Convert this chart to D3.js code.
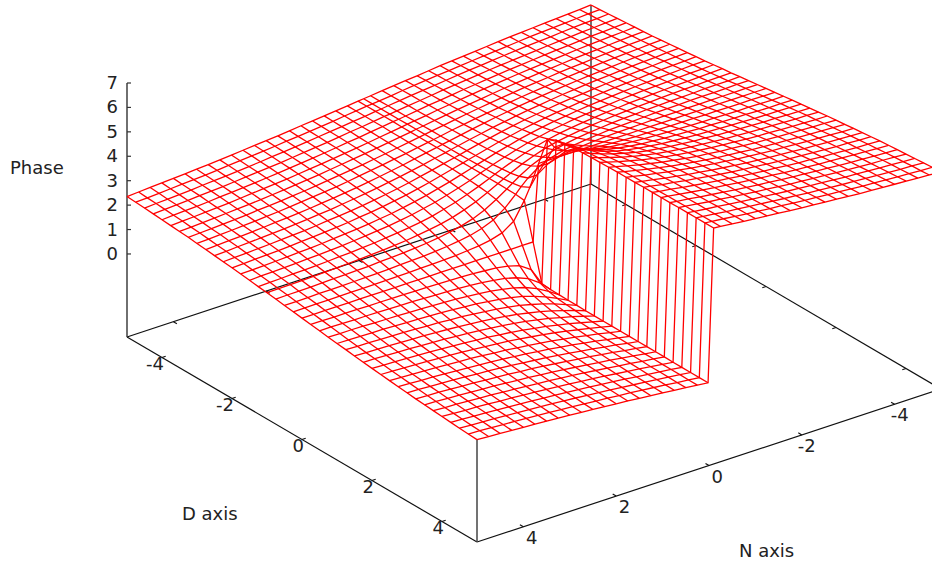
<!DOCTYPE html>
<html><head><meta charset="utf-8">
<style>html,body{margin:0;padding:0;background:#fff;overflow:hidden}svg{display:block}text{font-family:"DejaVu Sans",Verdana,sans-serif;font-size:18px;fill:#222}</style>
<script src="https://cdn.jsdelivr.net/npm/d3@7/dist/d3.min.js"></script>
</head><body><svg id="c" width="932" height="566"></svg>
<script>
const dValues=[-5,-4.75,-4.5,-4.25,-4,-3.75,-3.5,-3.25,-3,-2.75,-2.5,-2.25,-2,-1.75,-1.5,-1.25,-1,-.75,-.5,-.25,0,.25,.5,.75,1,1.25,1.5,1.75,2,2.25,2.5,2.75,3,3.25,3.5,3.75,4,4.25,4.5,4.75,5];
const nValues=[5,4.75,4.5,4.25,4,3.75,3.5,3.25,3,2.75,2.5,2.25,2,1.75,1.5,1.25,1,.75,.5,.25,.02,-.1,-.25,-.5,-.75,-1,-1.25,-1.5,-1.75,-2,-2.25,-2.5,-2.75,-3,-3.25,-3.5,-3.75,-4,-4.25,-4.5,-4.75,-5];
const dTicks=[-4,-2,0,2,4];
const nTicks=[4,2,0,-2,-4];
const zTicks=[0,1,2,3,4,5,6,7];
const phaseRows=[
[2.35,2.33,2.30,2.27,2.24,2.21,2.18,2.15,2.11,2.07,2.03,1.99,1.95,1.91,1.86,1.81,1.77,1.72,1.67,1.62,1.57,1.52,1.47,1.42,1.37,1.33,1.28,1.23,1.19,1.15,1.11,1.07,1.03,.99,.96,.93,.90,.87,.84,.81,.79],
[2.38,2.35,2.33,2.30,2.27,2.24,2.20,2.17,2.13,2.09,2.05,2.01,1.97,1.92,1.88,1.83,1.78,1.73,1.67,1.62,1.57,1.52,1.47,1.41,1.36,1.31,1.26,1.22,1.17,1.13,1.09,1.05,1.01,.97,.94,.90,.87,.84,.81,.79,.76],
[2.41,2.38,2.35,2.33,2.30,2.26,2.23,2.19,2.16,2.12,2.08,2.03,1.99,1.94,1.89,1.84,1.79,1.73,1.68,1.63,1.57,1.51,1.46,1.41,1.35,1.30,1.25,1.20,1.15,1.11,1.06,1.02,.98,.95,.91,.88,.84,.81,.79,.76,.73],
[2.44,2.41,2.38,2.35,2.32,2.29,2.26,2.22,2.18,2.14,2.10,2.06,2.01,1.96,1.91,1.86,1.80,1.74,1.69,1.63,1.57,1.51,1.45,1.40,1.34,1.28,1.23,1.18,1.13,1.08,1.04,1.00,.96,.92,.88,.85,.82,.79,.76,.73,.70],
[2.47,2.44,2.41,2.39,2.35,2.32,2.29,2.25,2.21,2.17,2.13,2.08,2.03,1.98,1.93,1.87,1.81,1.76,1.69,1.63,1.57,1.51,1.45,1.38,1.33,1.27,1.21,1.16,1.11,1.06,1.01,.97,.93,.89,.85,.82,.79,.75,.73,.70,.67],
[2.50,2.47,2.45,2.42,2.39,2.35,2.32,2.28,2.24,2.20,2.16,2.11,2.06,2.01,1.95,1.89,1.83,1.77,1.70,1.64,1.57,1.50,1.44,1.37,1.31,1.25,1.19,1.13,1.08,1.03,.98,.94,.90,.86,.82,.79,.75,.72,.69,.67,.64],
[2.53,2.50,2.48,2.45,2.42,2.39,2.35,2.32,2.28,2.24,2.19,2.14,2.09,2.03,1.97,1.91,1.85,1.78,1.71,1.64,1.57,1.50,1.43,1.36,1.29,1.23,1.17,1.11,1.05,1.00,.95,.90,.86,.82,.79,.75,.72,.69,.66,.64,.61],
[2.56,2.54,2.51,2.49,2.46,2.43,2.39,2.35,2.31,2.27,2.22,2.17,2.12,2.06,2.00,1.94,1.87,1.80,1.72,1.65,1.57,1.49,1.42,1.34,1.27,1.20,1.14,1.08,1.02,.97,.92,.87,.83,.79,.75,.71,.68,.65,.63,.60,.58],
[2.60,2.58,2.55,2.53,2.50,2.47,2.43,2.39,2.35,2.31,2.26,2.21,2.16,2.10,2.03,1.96,1.89,1.81,1.73,1.65,1.57,1.49,1.41,1.33,1.25,1.18,1.11,1.04,.98,.93,.88,.83,.79,.75,.71,.67,.64,.61,.59,.56,.54],
[2.64,2.62,2.59,2.57,2.54,2.51,2.47,2.44,2.40,2.35,2.31,2.26,2.20,2.14,2.07,2.00,1.92,1.84,1.75,1.66,1.57,1.48,1.39,1.30,1.22,1.14,1.07,1.00,.94,.88,.83,.79,.74,.70,.67,.63,.60,.57,.55,.52,.50],
[2.68,2.66,2.63,2.61,2.58,2.55,2.52,2.48,2.45,2.40,2.35,2.30,2.24,2.18,2.11,2.03,1.95,1.86,1.77,1.67,1.57,1.47,1.37,1.28,1.19,1.11,1.03,.96,.90,.84,.79,.74,.69,.66,.62,.59,.56,.53,.51,.48,.46],
[2.72,2.70,2.68,2.65,2.63,2.60,2.57,2.53,2.50,2.45,2.41,2.35,2.30,2.23,2.16,2.08,1.99,1.89,1.79,1.68,1.57,1.46,1.35,1.25,1.15,1.06,.98,.91,.84,.79,.73,.69,.64,.61,.57,.54,.51,.49,.46,.44,.42],
[2.76,2.74,2.72,2.70,2.68,2.65,2.62,2.59,2.55,2.51,2.47,2.41,2.35,2.29,2.21,2.13,2.03,1.93,1.81,1.69,1.57,1.45,1.33,1.21,1.11,1.01,.93,.85,.79,.73,.67,.63,.59,.55,.52,.49,.46,.44,.42,.40,.38],
[2.80,2.79,2.77,2.75,2.73,2.70,2.68,2.65,2.61,2.57,2.53,2.48,2.42,2.35,2.28,2.19,2.09,1.97,1.85,1.71,1.57,1.43,1.29,1.17,1.05,.95,.86,.79,.72,.66,.61,.57,.53,.49,.46,.44,.41,.39,.37,.35,.34],
[2.85,2.83,2.82,2.80,2.78,2.76,2.74,2.71,2.68,2.64,2.60,2.55,2.50,2.43,2.35,2.26,2.16,2.03,1.89,1.73,1.57,1.41,1.25,1.11,.98,.88,.79,.71,.64,.59,.54,.50,.46,.43,.40,.38,.36,.34,.32,.31,.29],
[2.90,2.88,2.87,2.85,2.84,2.82,2.80,2.77,2.75,2.71,2.68,2.63,2.58,2.52,2.45,2.35,2.24,2.11,1.95,1.77,1.57,1.37,1.19,1.03,.90,.79,.69,.62,.56,.51,.46,.43,.39,.37,.34,.32,.30,.29,.27,.26,.24],
[2.94,2.93,2.92,2.91,2.90,2.88,2.86,2.84,2.82,2.79,2.76,2.72,2.68,2.62,2.55,2.47,2.35,2.21,2.03,1.81,1.57,1.33,1.11,.93,.79,.67,.59,.52,.46,.42,.38,.35,.32,.30,.28,.26,.24,.23,.22,.21,.20],
[2.99,2.98,2.97,2.97,2.95,2.94,2.93,2.91,2.90,2.87,2.85,2.82,2.78,2.74,2.68,2.60,2.50,2.35,2.16,1.89,1.57,1.25,.98,.79,.64,.54,.46,.40,.36,.32,.29,.27,.24,.23,.21,.20,.19,.17,.17,.16,.15],
[3.04,3.04,3.03,3.02,3.02,3.01,3.00,2.99,2.97,2.96,2.94,2.92,2.90,2.86,2.82,2.76,2.68,2.55,2.35,2.03,1.57,1.11,.79,.59,.46,.38,.32,.28,.24,.22,.20,.18,.17,.15,.14,.13,.12,.12,.11,.10,.10],
[3.09,3.09,3.08,3.08,3.08,3.07,3.07,3.06,3.06,3.05,3.04,3.03,3.02,3.00,2.97,2.94,2.90,2.82,2.68,2.35,1.57,.79,.46,.32,.24,.20,.17,.14,.12,.11,.10,.09,.08,.08,.07,.07,.06,.06,.06,.05,.05],
[3.14,3.14,3.14,3.14,3.14,3.13,3.13,3.13,3.13,3.13,3.13,3.13,3.13,3.13,3.13,3.12,3.12,3.11,3.10,3.06,1.57,.08,.04,.03,.02,.02,.01,.01,.01,.01,.01,.01,.01,.01,.01,.01,0,0,0,0,0],
[3.16,3.16,3.16,3.16,3.16,3.17,3.17,3.17,3.17,3.18,3.18,3.18,3.19,3.20,3.21,3.22,3.24,3.27,3.34,3.52,4.71,5.90,6.08,6.15,6.18,6.20,6.21,6.22,6.23,6.24,6.24,6.24,6.25,6.25,6.25,6.25,6.26,6.26,6.26,6.26,6.26],
[3.19,3.19,3.20,3.20,3.20,3.21,3.21,3.22,3.22,3.23,3.24,3.25,3.26,3.28,3.31,3.34,3.38,3.46,3.60,3.93,4.71,5.49,5.82,5.96,6.04,6.08,6.11,6.14,6.16,6.17,6.18,6.19,6.20,6.20,6.21,6.21,6.22,6.22,6.22,6.23,6.23],
[3.24,3.24,3.25,3.26,3.26,3.27,3.28,3.29,3.31,3.32,3.34,3.36,3.38,3.42,3.46,3.52,3.60,3.73,3.93,4.25,4.71,5.17,5.49,5.69,5.82,5.90,5.96,6.00,6.04,6.06,6.08,6.10,6.11,6.13,6.14,6.15,6.16,6.16,6.17,6.18,6.18],
[3.29,3.30,3.31,3.31,3.33,3.34,3.35,3.37,3.38,3.41,3.43,3.46,3.50,3.54,3.60,3.68,3.78,3.93,4.12,4.39,4.71,5.03,5.30,5.49,5.64,5.74,5.82,5.88,5.92,5.96,5.99,6.01,6.04,6.05,6.07,6.08,6.09,6.11,6.11,6.12,6.13],
[3.34,3.35,3.36,3.37,3.38,3.40,3.42,3.44,3.46,3.49,3.52,3.56,3.60,3.66,3.73,3.81,3.93,4.07,4.25,4.47,4.71,4.95,5.17,5.35,5.49,5.61,5.69,5.76,5.82,5.86,5.90,5.93,5.96,5.98,6.00,6.02,6.04,6.05,6.06,6.07,6.08],
[3.38,3.40,3.41,3.43,3.44,3.46,3.48,3.51,3.53,3.57,3.60,3.65,3.70,3.76,3.83,3.93,4.04,4.17,4.33,4.51,4.71,4.91,5.09,5.25,5.38,5.49,5.59,5.66,5.72,5.77,5.82,5.85,5.89,5.91,5.94,5.96,5.98,5.99,6.01,6.02,6.04],
[3.43,3.45,3.46,3.48,3.50,3.52,3.54,3.57,3.60,3.64,3.68,3.73,3.78,3.85,3.93,4.02,4.12,4.25,4.39,4.55,4.71,4.87,5.03,5.17,5.30,5.40,5.49,5.57,5.64,5.69,5.74,5.78,5.82,5.85,5.88,5.90,5.92,5.94,5.96,5.97,5.99],
[3.48,3.49,3.51,3.53,3.55,3.58,3.60,3.63,3.67,3.71,3.75,3.80,3.86,3.93,4.00,4.09,4.19,4.31,4.43,4.57,4.71,4.85,4.99,5.11,5.23,5.33,5.42,5.49,5.56,5.62,5.67,5.71,5.75,5.79,5.82,5.84,5.87,5.89,5.91,5.93,5.94],
[3.52,3.54,3.56,3.58,3.60,3.63,3.66,3.69,3.73,3.77,3.81,3.87,3.93,3.99,4.07,4.15,4.25,4.35,4.47,4.59,4.71,4.83,4.95,5.07,5.17,5.27,5.35,5.43,5.49,5.55,5.61,5.65,5.69,5.73,5.76,5.79,5.82,5.84,5.86,5.88,5.90],
[3.56,3.58,3.60,3.63,3.65,3.68,3.71,3.75,3.78,3.83,3.87,3.93,3.98,4.05,4.12,4.20,4.29,4.39,4.49,4.60,4.71,4.82,4.93,5.03,5.13,5.22,5.30,5.37,5.44,5.49,5.55,5.59,5.64,5.67,5.71,5.74,5.77,5.79,5.82,5.84,5.86],
[3.60,3.62,3.65,3.67,3.70,3.73,3.76,3.80,3.83,3.88,3.93,3.98,4.04,4.10,4.17,4.25,4.33,4.42,4.51,4.61,4.71,4.81,4.91,5.00,5.09,5.17,5.25,5.32,5.38,5.44,5.49,5.54,5.59,5.62,5.66,5.69,5.72,5.75,5.77,5.80,5.82],
[3.64,3.66,3.69,3.71,3.74,3.77,3.81,3.84,3.88,3.93,3.97,4.02,4.08,4.14,4.21,4.28,4.36,4.44,4.53,4.62,4.71,4.80,4.89,4.98,5.06,5.14,5.21,5.28,5.34,5.40,5.45,5.49,5.54,5.58,5.61,5.65,5.68,5.71,5.73,5.76,5.78],
[3.68,3.70,3.73,3.75,3.78,3.81,3.85,3.89,3.93,3.97,4.02,4.07,4.12,4.18,4.25,4.32,4.39,4.47,4.55,4.63,4.71,4.79,4.87,4.95,5.03,5.10,5.17,5.24,5.30,5.35,5.40,5.45,5.49,5.53,5.57,5.61,5.64,5.67,5.69,5.72,5.74],
[3.72,3.74,3.77,3.79,3.82,3.85,3.89,3.93,3.97,4.01,4.06,4.11,4.16,4.22,4.28,4.34,4.41,4.48,4.56,4.63,4.71,4.79,4.86,4.94,5.01,5.08,5.14,5.20,5.26,5.31,5.36,5.41,5.45,5.49,5.53,5.57,5.60,5.63,5.65,5.68,5.70],
[3.75,3.78,3.80,3.83,3.86,3.89,3.93,3.96,4.00,4.04,4.09,4.14,4.19,4.25,4.31,4.37,4.43,4.50,4.57,4.64,4.71,4.78,4.85,4.92,4.99,5.05,5.11,5.17,5.23,5.28,5.33,5.38,5.42,5.46,5.49,5.53,5.56,5.59,5.62,5.64,5.67],
[3.78,3.81,3.83,3.86,3.89,3.93,3.96,4.00,4.04,4.08,4.12,4.17,4.22,4.27,4.33,4.39,4.45,4.51,4.58,4.64,4.71,4.78,4.84,4.91,4.97,5.03,5.09,5.15,5.20,5.25,5.30,5.34,5.38,5.42,5.46,5.49,5.53,5.56,5.59,5.61,5.64],
[3.81,3.84,3.87,3.89,3.93,3.96,3.99,4.03,4.07,4.11,4.15,4.20,4.25,4.30,4.35,4.41,4.47,4.52,4.59,4.65,4.71,4.77,4.83,4.90,4.95,5.01,5.07,5.12,5.17,5.22,5.27,5.31,5.35,5.39,5.43,5.46,5.49,5.53,5.55,5.58,5.61],
[3.84,3.87,3.90,3.93,3.96,3.99,4.02,4.06,4.10,4.14,4.18,4.22,4.27,4.32,4.37,4.42,4.48,4.54,4.59,4.65,4.71,4.77,4.83,4.88,4.94,5.00,5.05,5.10,5.15,5.20,5.24,5.28,5.32,5.36,5.40,5.43,5.46,5.49,5.52,5.55,5.58],
[3.87,3.90,3.93,3.95,3.98,4.02,4.05,4.09,4.12,4.16,4.20,4.25,4.29,4.34,4.39,4.44,4.49,4.55,4.60,4.65,4.71,4.77,4.82,4.87,4.93,4.98,5.03,5.08,5.13,5.17,5.22,5.26,5.30,5.33,5.37,5.40,5.44,5.47,5.49,5.52,5.55],
[3.90,3.93,3.95,3.98,4.01,4.04,4.08,4.11,4.15,4.19,4.23,4.27,4.31,4.36,4.40,4.45,4.50,4.55,4.61,4.66,4.71,4.76,4.81,4.87,4.92,4.97,5.02,5.06,5.11,5.15,5.19,5.23,5.27,5.31,5.34,5.38,5.41,5.44,5.47,5.49,5.52],
[3.93,3.95,3.98,4.01,4.04,4.07,4.10,4.13,4.17,4.21,4.25,4.29,4.33,4.37,4.42,4.47,4.51,4.56,4.61,4.66,4.71,4.76,4.81,4.86,4.91,4.95,5.00,5.05,5.09,5.13,5.17,5.21,5.25,5.29,5.32,5.35,5.38,5.41,5.44,5.47,5.49]
];
const svg=d3.select("#c");
// oblique projection built from linear scales
const xD=d3.scaleLinear().domain([-5,5]).range([0,350]);
const yD=d3.scaleLinear().domain([-5,5]).range([0,205]);
const xN=d3.scaleLinear().domain([5,-5]).range([127,591]);
const yN=d3.scaleLinear().domain([5,-5]).range([337,184]);
const zH=d3.scaleLinear().domain([-3.4,7]).range([0,-254]);
const px=(d,n)=>xD(d)+xN(n);
const py=(d,n,z)=>yD(d)+yN(n)+zH(z);
const zBase=-3.4, zTop=7;
const line=d3.line().x(p=>p[0]).y(p=>p[1]);
const seg=(a,b,c,w)=>svg.append("line").attr("x1",a[0]).attr("y1",a[1]).attr("x2",b[0]).attr("y2",b[1]).attr("stroke",c||"#111").attr("stroke-width",w||1.2);
const P=(d,n,z)=>[px(d,n),py(d,n,z)];
// base
const dMin=d3.min(dValues),dMax=d3.max(dValues),nMin=d3.min(nValues),nMax=d3.max(nValues);
[[[dMin,nMax],[dMax,nMax]],[[dMax,nMax],[dMax,nMin]],[[dMax,nMin],[dMin,nMin]],[[dMin,nMin],[dMin,nMax]]].forEach(e=>seg(P(e[0][0],e[0][1],zBase),P(e[1][0],e[1][1],zBase)));
// verticals
seg(P(dMin,nMax,zBase),P(dMin,nMax,zTop),"#333",1.4);
const last=phaseRows.length-1,lastC=dValues.length-1;
seg(P(dMax,nMax,zBase),P(dMax,nMax,phaseRows[0][lastC]),"#444",1.5);
seg(P(dMin,nMin,zBase),P(dMin,nMin,phaseRows[last][0]),"#444",1.5);
// ticks
zTicks.forEach(z=>{const p=P(dMin,nMax,z);seg(p,[p[0]+4,p[1]],"#333");
 svg.append("text").attr("x",118).attr("y",p[1]+6).attr("text-anchor","end").text(z);});
dTicks.forEach(d=>{seg(P(d,nMax,zBase),P(d,nMax-.08,zBase));seg(P(d,nMin,zBase),P(d,nMin+.08,zBase));
 const p=P(d,nMax,zBase);svg.append("text").attr("x",p[0]+2).attr("y",p[1]+12).attr("text-anchor","end").text(d);});
nTicks.forEach(n=>{seg(P(dMax,n,zBase),P(dMax-.1,n,zBase));seg(P(dMin,n,zBase),P(dMin+.1,n,zBase));
 const p=P(dMax,n,zBase);svg.append("text").attr("x",p[0]+14).attr("y",p[1]+17).attr("text-anchor","end").text(n);});
// surface mesh
const g=svg.append("g").attr("fill","none").attr("stroke","#ff0000").attr("stroke-width",1.3);
phaseRows.forEach((row,i)=>g.append("path").attr("d",line(row.map((z,j)=>P(dValues[j],nValues[i],z)))));
dValues.forEach((d,j)=>g.append("path").attr("d",line(phaseRows.map((row,i)=>P(d,nValues[i],row[j])))));
// titles
svg.append("text").attr("x",10).attr("y",174).text("Phase");
svg.append("text").attr("x",182).attr("y",520).text("D axis");
svg.append("text").attr("x",739).attr("y",557).text("N axis");
</script></body></html>
